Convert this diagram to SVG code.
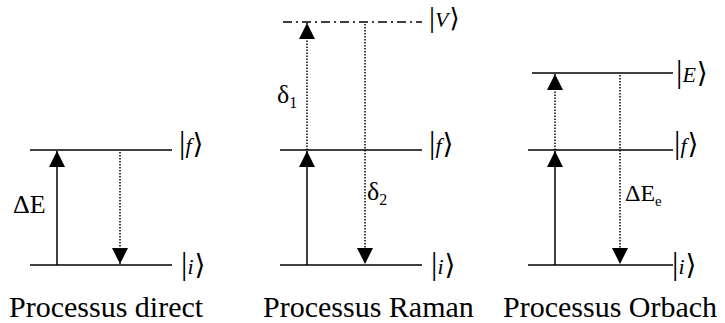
<svg xmlns="http://www.w3.org/2000/svg" width="725" height="323" viewBox="0 0 725 323">
<style>
text{font-family:'Liberation Serif',serif}
.br{font-family:'DejaVu Serif',serif}
</style>
<defs>
<marker id="ah" markerUnits="userSpaceOnUse" markerWidth="17" markerHeight="17" viewBox="0 0 17 17" refX="16" refY="8.5" orient="auto">
<path d="M0,0.5 L16,8.5 L0,16.5 Z" fill="#000"/>
</marker>
</defs>
<g id="direct">
<g stroke="#000" stroke-width="1.6" fill="none">
<line x1="30" y1="150" x2="172" y2="150"/>
<line x1="30" y1="265" x2="172" y2="265"/>
</g>
<text x="179" y="153" font-family="Liberation Serif"><tspan font-size="32">|</tspan><tspan font-style="italic" font-size="22">f</tspan><tspan class="br" font-size="28" dx="1">⟩</tspan></text>
<text x="181" y="274" font-family="Liberation Serif"><tspan font-size="32">|</tspan><tspan font-style="italic" font-size="22">i</tspan><tspan class="br" font-size="28" dx="1">⟩</tspan></text>
<text x="13" y="213" font-size="26" font-family="Liberation Serif">ΔE</text>
<text x="9" y="317" font-size="30" font-family="Liberation Serif">Processus direct</text>
</g>
<g id="raman">
<g stroke="#000" stroke-width="1.6" fill="none">
<line x1="283" y1="22" x2="422" y2="22" stroke-width="1.4" stroke-dasharray="9 4 2 4"/>
<line x1="280" y1="150" x2="422" y2="150"/>
<line x1="280" y1="265" x2="422" y2="265"/>
</g>
<text x="429" y="27" font-family="Liberation Serif"><tspan font-size="30">|</tspan><tspan font-style="italic" font-size="22">V</tspan><tspan class="br" font-size="26" dx="1">⟩</tspan></text>
<text x="429" y="153" font-family="Liberation Serif"><tspan font-size="32">|</tspan><tspan font-style="italic" font-size="22">f</tspan><tspan class="br" font-size="28" dx="1">⟩</tspan></text>
<text x="431" y="274" font-family="Liberation Serif"><tspan font-size="32">|</tspan><tspan font-style="italic" font-size="22">i</tspan><tspan class="br" font-size="28" dx="1">⟩</tspan></text>
<text x="277" y="103" font-size="26" font-family="Liberation Serif">δ<tspan font-size="16" dy="5">1</tspan></text>
<text x="367" y="200" font-size="26" font-family="Liberation Serif">δ<tspan font-size="16" dy="5">2</tspan></text>
<text x="263" y="317" font-size="30" font-family="Liberation Serif">Processus Raman</text>
</g>
<g id="orbach">
<g stroke="#000" stroke-width="1.6" fill="none">
<line x1="532" y1="73" x2="673" y2="73"/>
<line x1="528" y1="150" x2="673" y2="150"/>
<line x1="528" y1="265" x2="673" y2="265"/>
</g>
<text x="676" y="82" font-family="Liberation Serif"><tspan font-size="32">|</tspan><tspan font-style="italic" font-size="22">E</tspan><tspan class="br" font-size="28" dx="1">⟩</tspan></text>
<text x="674" y="153" font-family="Liberation Serif"><tspan font-size="32">|</tspan><tspan font-style="italic" font-size="22">f</tspan><tspan class="br" font-size="28" dx="1">⟩</tspan></text>
<text x="672" y="274" font-family="Liberation Serif"><tspan font-size="32">|</tspan><tspan font-style="italic" font-size="22">i</tspan><tspan class="br" font-size="28" dx="1">⟩</tspan></text>
<text x="625" y="201" font-size="24" font-family="Liberation Serif">ΔE<tspan font-size="15" dy="5">e</tspan></text>
<text x="503" y="317" font-size="30" font-family="Liberation Serif">Processus Orbach</text>
</g>
<g id="connectors" stroke="#000" stroke-width="1.5" fill="none">
<g>
<line x1="57" y1="265" x2="57" y2="151" marker-end="url(#ah)"/>
<line x1="307" y1="265" x2="307" y2="151" marker-end="url(#ah)"/>
<line x1="555" y1="265" x2="555" y2="151" marker-end="url(#ah)"/>
</g>
<g stroke-dasharray="1.5 1.5">
<line x1="120" y1="152" x2="120" y2="264" marker-end="url(#ah)"/>
<line x1="307" y1="150" x2="307" y2="23" marker-end="url(#ah)"/>
<line x1="365" y1="24" x2="365" y2="264" marker-end="url(#ah)"/>
<line x1="555" y1="150" x2="555" y2="74" marker-end="url(#ah)"/>
<line x1="620" y1="75" x2="620" y2="264" marker-end="url(#ah)"/>
</g>
</g>
</svg>
